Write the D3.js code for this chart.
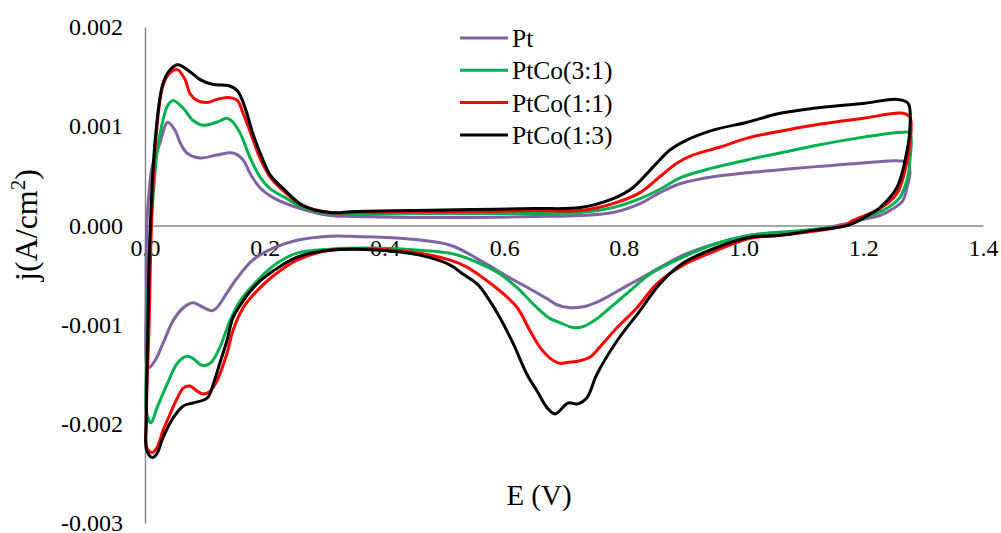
<!DOCTYPE html>
<html>
<head>
<meta charset="utf-8">
<script src="https://cdnjs.cloudflare.com/ajax/libs/d3/7.8.5/d3.min.js"></script>
<style>
  html, body { margin: 0; padding: 0; background: #fff; }
  svg { display: block; }
  text { font-family: "Liberation Serif", "Times New Roman", serif; fill: #000; }
</style>
</head>
<body>
<svg id="chart" width="1001" height="533"></svg>
<script>
// ---- Data (E in V, j in A/cm2), each a closed CV loop ----
const seriesNames = ["Pt", "PtCo(3:1)", "PtCo(1:1)", "PtCo(1:3)"];
const seriesColors = ["#8064A2", "#00B050", "#FF0000", "#000000"];
const xTicks = [0, 0.2, 0.4, 0.6, 0.8, 1.0, 1.2, 1.4];
const yTicks = [-0.003, -0.002, -0.001, 0, 0.001, 0.002];

const ptE = [0.003,0.007,0.012,0.025,0.038,0.050,0.059,0.070,0.092,0.120,0.147,0.164,0.175,0.192,0.214,0.254,0.309,0.35,0.45,0.55,0.65,0.727,0.782,0.827,0.860,0.894,0.949,1.006,1.061,1.116,1.200,1.261,1.275,1.278,1.273,1.266,1.250,1.228,1.206,1.173,1.116,1.061,1.011,0.956,0.899,0.844,0.799,0.760,0.732,0.710,0.688,0.672,0.643,0.610,0.565,0.510,0.426,0.343,0.309,0.254,0.214,0.180,0.154,0.137,0.120,0.112,0.092,0.080,0.064,0.047,0.030,0.017,0.005,0.002,0.002];
const ptJ = [0.0,0.00035,0.00059,0.00083,0.00104,0.00096,0.00083,0.00073,0.00068,0.00071,0.00073,0.00066,0.00053,0.00038,0.00028,0.00018,0.00010,0.00009,0.00008,0.00008,0.00009,0.00010,0.00013,0.00022,0.00033,0.00042,0.00049,0.00053,0.00056,0.00059,0.00063,0.00065,0.00063,0.00053,0.00038,0.00025,0.00017,0.00010,0.00007,0.00002,-0.00005,-0.00007,-0.00010,-0.00018,-0.00030,-0.00048,-0.00063,-0.00076,-0.00082,-0.00083,-0.00080,-0.00074,-0.00064,-0.00053,-0.00037,-0.00020,-0.00013,-0.00011,-0.00011,-0.00015,-0.00023,-0.00035,-0.00053,-0.00068,-0.00083,-0.00086,-0.00081,-0.00078,-0.00083,-0.00096,-0.00119,-0.00136,-0.00144,-0.00136,-0.00076];

const pt31E = [0.008,0.013,0.020,0.030,0.038,0.047,0.064,0.080,0.097,0.120,0.137,0.147,0.159,0.175,0.192,0.209,0.237,0.264,0.309,0.35,0.45,0.55,0.65,0.727,0.782,0.827,0.865,0.894,0.949,1.006,1.061,1.116,1.200,1.266,1.278,1.278,1.273,1.261,1.233,1.190,1.174,1.116,1.061,1.011,0.956,0.899,0.844,0.810,0.777,0.755,0.732,0.715,0.693,0.677,0.655,0.622,0.593,0.565,0.538,0.510,0.459,0.393,0.309,0.254,0.221,0.187,0.159,0.142,0.125,0.109,0.095,0.080,0.070,0.054,0.037,0.020,0.010,0.003,0.002,0.005];
const pt31J = [-0.00015,0.00025,0.00073,0.00106,0.00121,0.00126,0.00118,0.00106,0.00101,0.00104,0.00108,0.00104,0.00093,0.00069,0.00049,0.00037,0.00027,0.00018,0.00012,0.00011,0.00012,0.00012,0.00012,0.00013,0.00018,0.00027,0.00038,0.00048,0.00058,0.00066,0.00073,0.00080,0.00089,0.00094,0.00093,0.00066,0.00046,0.00028,0.00015,0.00005,0.0,-0.00004,-0.00007,-0.00010,-0.00018,-0.00032,-0.00049,-0.00066,-0.00083,-0.00094,-0.00102,-0.00103,-0.00098,-0.00094,-0.00083,-0.00063,-0.00049,-0.00040,-0.00033,-0.00028,-0.00025,-0.00023,-0.00024,-0.00028,-0.00038,-0.00056,-0.00076,-0.00096,-0.00123,-0.00139,-0.00141,-0.00134,-0.00132,-0.00139,-0.00160,-0.00184,-0.00199,-0.00190,-0.00147,-0.00076];

const pt11E = [0.010,0.018,0.030,0.042,0.054,0.067,0.075,0.087,0.104,0.120,0.139,0.154,0.164,0.179,0.192,0.209,0.231,0.264,0.309,0.35,0.45,0.55,0.65,0.727,0.782,0.827,0.860,0.889,0.916,0.961,1.006,1.061,1.116,1.200,1.266,1.278,1.278,1.270,1.256,1.228,1.183,1.169,1.116,1.061,1.011,0.956,0.899,0.855,0.822,0.789,0.765,0.743,0.722,0.707,0.693,0.677,0.660,0.643,0.622,0.593,0.565,0.538,0.510,0.459,0.393,0.309,0.254,0.214,0.187,0.164,0.147,0.137,0.120,0.109,0.097,0.087,0.075,0.064,0.054,0.042,0.030,0.020,0.012,0.003,0.002,0.007];
const pt11J = [-0.00015,0.00086,0.00141,0.00154,0.00157,0.00147,0.00133,0.00126,0.00124,0.00127,0.00129,0.00126,0.00113,0.00089,0.00068,0.00049,0.00035,0.00020,0.00013,0.00013,0.00014,0.00014,0.00015,0.00015,0.00022,0.00033,0.00049,0.00063,0.00071,0.00079,0.00088,0.00095,0.00101,0.00108,0.00113,0.00109,0.00083,0.00056,0.00032,0.00017,0.00005,0.0,-0.00006,-0.00010,-0.00013,-0.00025,-0.00040,-0.00059,-0.00083,-0.00103,-0.00119,-0.00133,-0.00137,-0.00138,-0.00139,-0.00134,-0.00123,-0.00106,-0.00083,-0.00066,-0.00053,-0.00042,-0.00035,-0.00028,-0.00024,-0.00025,-0.00035,-0.00051,-0.00066,-0.00083,-0.00106,-0.00129,-0.00157,-0.00167,-0.00170,-0.00167,-0.00162,-0.00164,-0.00174,-0.00190,-0.00207,-0.00224,-0.00229,-0.00224,-0.00197,-0.00096];

const pt13E = [0.008,0.017,0.030,0.042,0.055,0.075,0.092,0.114,0.139,0.154,0.167,0.180,0.195,0.209,0.231,0.264,0.309,0.35,0.45,0.55,0.65,0.727,0.782,0.815,0.849,0.877,0.905,0.949,1.006,1.061,1.116,1.200,1.258,1.275,1.278,1.270,1.256,1.228,1.216,1.174,1.116,1.061,1.011,0.956,0.899,0.860,0.827,0.789,0.755,0.738,0.722,0.707,0.685,0.672,0.655,0.638,0.615,0.593,0.576,0.555,0.531,0.510,0.459,0.393,0.309,0.254,0.214,0.187,0.164,0.147,0.137,0.125,0.114,0.104,0.080,0.064,0.047,0.030,0.020,0.012,0.003,0.002,0.005];
const pt13J = [-0.00015,0.00086,0.00143,0.00157,0.00162,0.00155,0.00147,0.00142,0.00141,0.00136,0.00119,0.00093,0.00069,0.00051,0.00037,0.00020,0.00013,0.00014,0.00015,0.00016,0.00017,0.00018,0.00027,0.00038,0.00059,0.00076,0.00086,0.00096,0.00104,0.00113,0.00118,0.00123,0.00127,0.00123,0.00099,0.00066,0.00038,0.00018,0.00013,0.0,-0.00005,-0.00010,-0.00012,-0.00022,-0.00038,-0.00059,-0.00086,-0.00116,-0.00150,-0.00174,-0.00180,-0.00179,-0.00190,-0.00184,-0.00167,-0.00150,-0.00119,-0.00093,-0.00076,-0.00059,-0.00049,-0.00040,-0.00030,-0.00025,-0.00025,-0.00032,-0.00046,-0.00059,-0.00076,-0.00093,-0.00116,-0.00139,-0.00160,-0.00174,-0.00179,-0.00182,-0.00194,-0.00214,-0.00230,-0.00234,-0.00227,-0.00197,-0.00096];

const seriesE = [ptE, pt31E, pt11E, pt13E];
const seriesJ = [ptJ, pt31J, pt11J, pt13J];

// ---- Layout ----
const svg = d3.select("#chart");
const x = d3.scaleLinear().domain([0, 1.4]).range([145, 983]);
const y = d3.scaleLinear().domain([-0.003, 0.002]).range([523, 27]);
const axisColor = "#888888";
const tickFont = 24;
const legendFont = 25.5;
const titleFont = 29;
const yTitleFont = 32;

// Y axis
const yAxis = svg.append("g").attr("transform", `translate(${x(0)},0)`)
  .call(d3.axisLeft(y).tickValues(yTicks).tickSize(0).tickPadding(22).tickFormat(d => d.toFixed(3)));
yAxis.select(".domain").attr("stroke", axisColor).attr("stroke-width", 1.5);
yAxis.selectAll("text").attr("font-size", tickFont).attr("font-family", "Liberation Serif");

// X axis at j = 0
const xAxis = svg.append("g").attr("transform", `translate(0,${y(0)})`)
  .call(d3.axisBottom(x).tickValues(xTicks).tickSize(0).tickPadding(14).tickFormat(d => d.toFixed(1)));
xAxis.select(".domain").attr("stroke", axisColor).attr("stroke-width", 1.5);
xAxis.selectAll("text").attr("font-size", tickFont).attr("font-family", "Liberation Serif");

// Series
const line = d3.line().x(d => x(d[0])).y(d => y(d[1])).curve(d3.curveCatmullRomClosed.alpha(0.5));
seriesE.forEach((E, i) => {
  const pts = E.map((e, k) => [e, seriesJ[i][k]]);
  svg.append("path").datum(pts)
    .attr("d", line)
    .attr("fill", "none")
    .attr("stroke", seriesColors[i])
    .attr("stroke-width", 3)
    .attr("stroke-linejoin", "round");
});

// Axis titles
svg.append("text").attr("x", 539).attr("y", 505).attr("text-anchor", "middle")
  .attr("font-size", titleFont).text("E (V)");
const yt = svg.append("text").attr("transform", "translate(37,225) rotate(-90)")
  .attr("text-anchor", "middle").attr("font-size", yTitleFont);
yt.append("tspan").text("j(A/cm");
yt.append("tspan").attr("font-size", 21).attr("dy", -12).text("2");
yt.append("tspan").attr("dy", 12).text(")");

// Legend
const legend = svg.append("g");
seriesNames.forEach((name, i) => {
  const ly = 38 + i * 32.3;
  legend.append("line").attr("x1", 460).attr("x2", 508).attr("y1", ly).attr("y2", ly)
    .attr("stroke", seriesColors[i]).attr("stroke-width", 3);
  legend.append("text").attr("x", 512).attr("y", ly).attr("dy", "0.35em")
    .attr("font-size", legendFont).text(name);
});
</script>
</body>
</html>
